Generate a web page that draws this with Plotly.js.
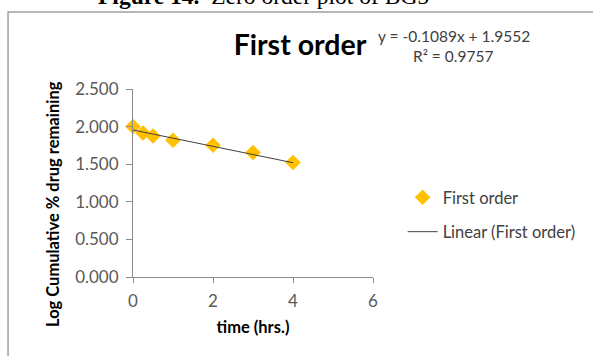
<!DOCTYPE html>
<html>
<head>
<meta charset="utf-8">
<script src="https://cdn.plot.ly/plotly-3.0.1.min.js"></script>
<style>html,body{margin:0;padding:0;background:#fff;}#chart{width:593px;height:356px;}</style>
</head>
<body>
<div id="chart"></div>
<script>
// Data
const timeHrs = [0, 0.25, 0.5, 1, 2, 3, 4];
const logRemaining = [2.000, 1.915, 1.875, 1.818, 1.752, 1.655, 1.522];
// Excel trendline shown on the chart: y = -0.1089x + 1.9552, R² = 0.9757
const fitSlope = -0.1089;
const fitIntercept = 1.9552;
const fitR2 = 0.9757;
const fitX = [0, 4];
const yTicks = [0, 0.5, 1, 1.5, 2, 2.5];
const yTickText = ['0.000', '0.500', '1.000', '1.500', '2.000', '2.500'];
const xTicks = [0, 2, 4, 6];

const fitY = fitX.map(x => fitSlope * x + fitIntercept);

const FONT = 'Lato, "Open Sans", "DejaVu Sans", sans-serif';

const traces = [
  {
    x: timeHrs, y: logRemaining, type: 'scatter', mode: 'markers', name: 'First order',
    legendgroup: 'a',
    marker: {symbol: 'diamond', size: 12, color: '#FFC000', line: {width: 0}},
    cliponaxis: false
  },
  {
    x: fitX, y: fitY, type: 'scatter', mode: 'lines', name: 'Linear (First order)',
    legendgroup: 'b',
    line: {color: '#404040', width: 1}
  }
];

const layout = {
  width: 593, height: 356,
  margin: {l: 133, r: 217, t: 89, b: 79},
  paper_bgcolor: '#ffffff', plot_bgcolor: '#ffffff',
  font: {family: FONT, color: '#595959', size: 17},
  title: {
    text: '<b>First order</b>',
    font: {family: FONT, size: 28.5, color: '#000000'},
    x: 300 / 593, xref: 'container', xanchor: 'center',
    y: 1 - 45 / 356, yref: 'container', yanchor: 'middle'
  },
  xaxis: {
    range: [0, 6], tickvals: xTicks, ticktext: xTicks.map(String),
    showgrid: false, zeroline: false, showline: true, linecolor: '#8c8c8c', linewidth: 1,
    ticks: 'outside', ticklen: 5, tickcolor: '#8c8c8c', ticklabelstandoff: 4,
    tickfont: {family: FONT, size: 17, color: '#595959'},
    title: {text: '<b>time (hrs.)</b>', font: {family: FONT, size: 16.5, color: '#000000'}, standoff: 11}
  },
  yaxis: {
    range: [0, 2.5], tickvals: yTicks, ticktext: yTickText,
    showgrid: false, zeroline: false, showline: true, linecolor: '#8c8c8c', linewidth: 1,
    ticks: 'outside', ticklen: 6, tickcolor: '#8c8c8c', ticklabelstandoff: 4,
    tickfont: {family: FONT, size: 17, color: '#595959'}
  },
  showlegend: true,
  legend: {
    x: (406 - 133) / 243, xanchor: 'left', y: (277 - 180) / 188, yanchor: 'top',
    font: {family: FONT, size: 16.5, color: '#404040'},
    bgcolor: 'rgba(0,0,0,0)', tracegroupgap: 10, itemwidth: 30
  },
  shapes: [
    {type: 'rect', xref: 'paper', yref: 'paper',
     x0: (6.5 - 133) / 243, x1: (610 - 133) / 243,
     y0: (277 - 370) / 188, y1: (277 - 12) / 188,
     line: {color: '#a0a0a0', width: 1.5}, fillcolor: 'rgba(0,0,0,0)', layer: 'below'}
  ],
  annotations: [
    {text: '<b>Figure 14.</b>  Zero order plot of BG5', xref: 'paper', yref: 'paper',
     x: (265 - 133) / 243, y: (277 + 4) / 188, xanchor: 'center', yanchor: 'middle',
     showarrow: false, font: {family: '"Liberation Serif", "DejaVu Serif", serif', size: 23.5, color: '#000000'}},
    {text: '<b>Log Cumulative % drug remaining</b>', xref: 'paper', yref: 'paper',
     x: (52 - 133) / 243, y: (277 - 204) / 188, xanchor: 'center', yanchor: 'middle',
     textangle: -90, showarrow: false, font: {family: FONT, size: 16.5, color: '#000000'}},
    {text: 'y = ' + fitSlope.toFixed(4) + 'x + ' + fitIntercept.toFixed(4), xref: 'paper', yref: 'paper',
     x: (458 - 133) / 243, y: (277 - 36) / 188, xanchor: 'center', yanchor: 'middle',
     showarrow: false, font: {family: FONT, size: 15.5, color: '#404040'}},
    {text: 'R² = ' + fitR2.toFixed(4), xref: 'paper', yref: 'paper',
     x: (457 - 133) / 243, y: (277 - 56) / 188, xanchor: 'center', yanchor: 'middle',
     showarrow: false, font: {family: FONT, size: 15.5, color: '#404040'}}
  ]
};

Plotly.newPlot('chart', traces, layout, {displayModeBar: false, staticPlot: true});
</script>
</body>
</html>
